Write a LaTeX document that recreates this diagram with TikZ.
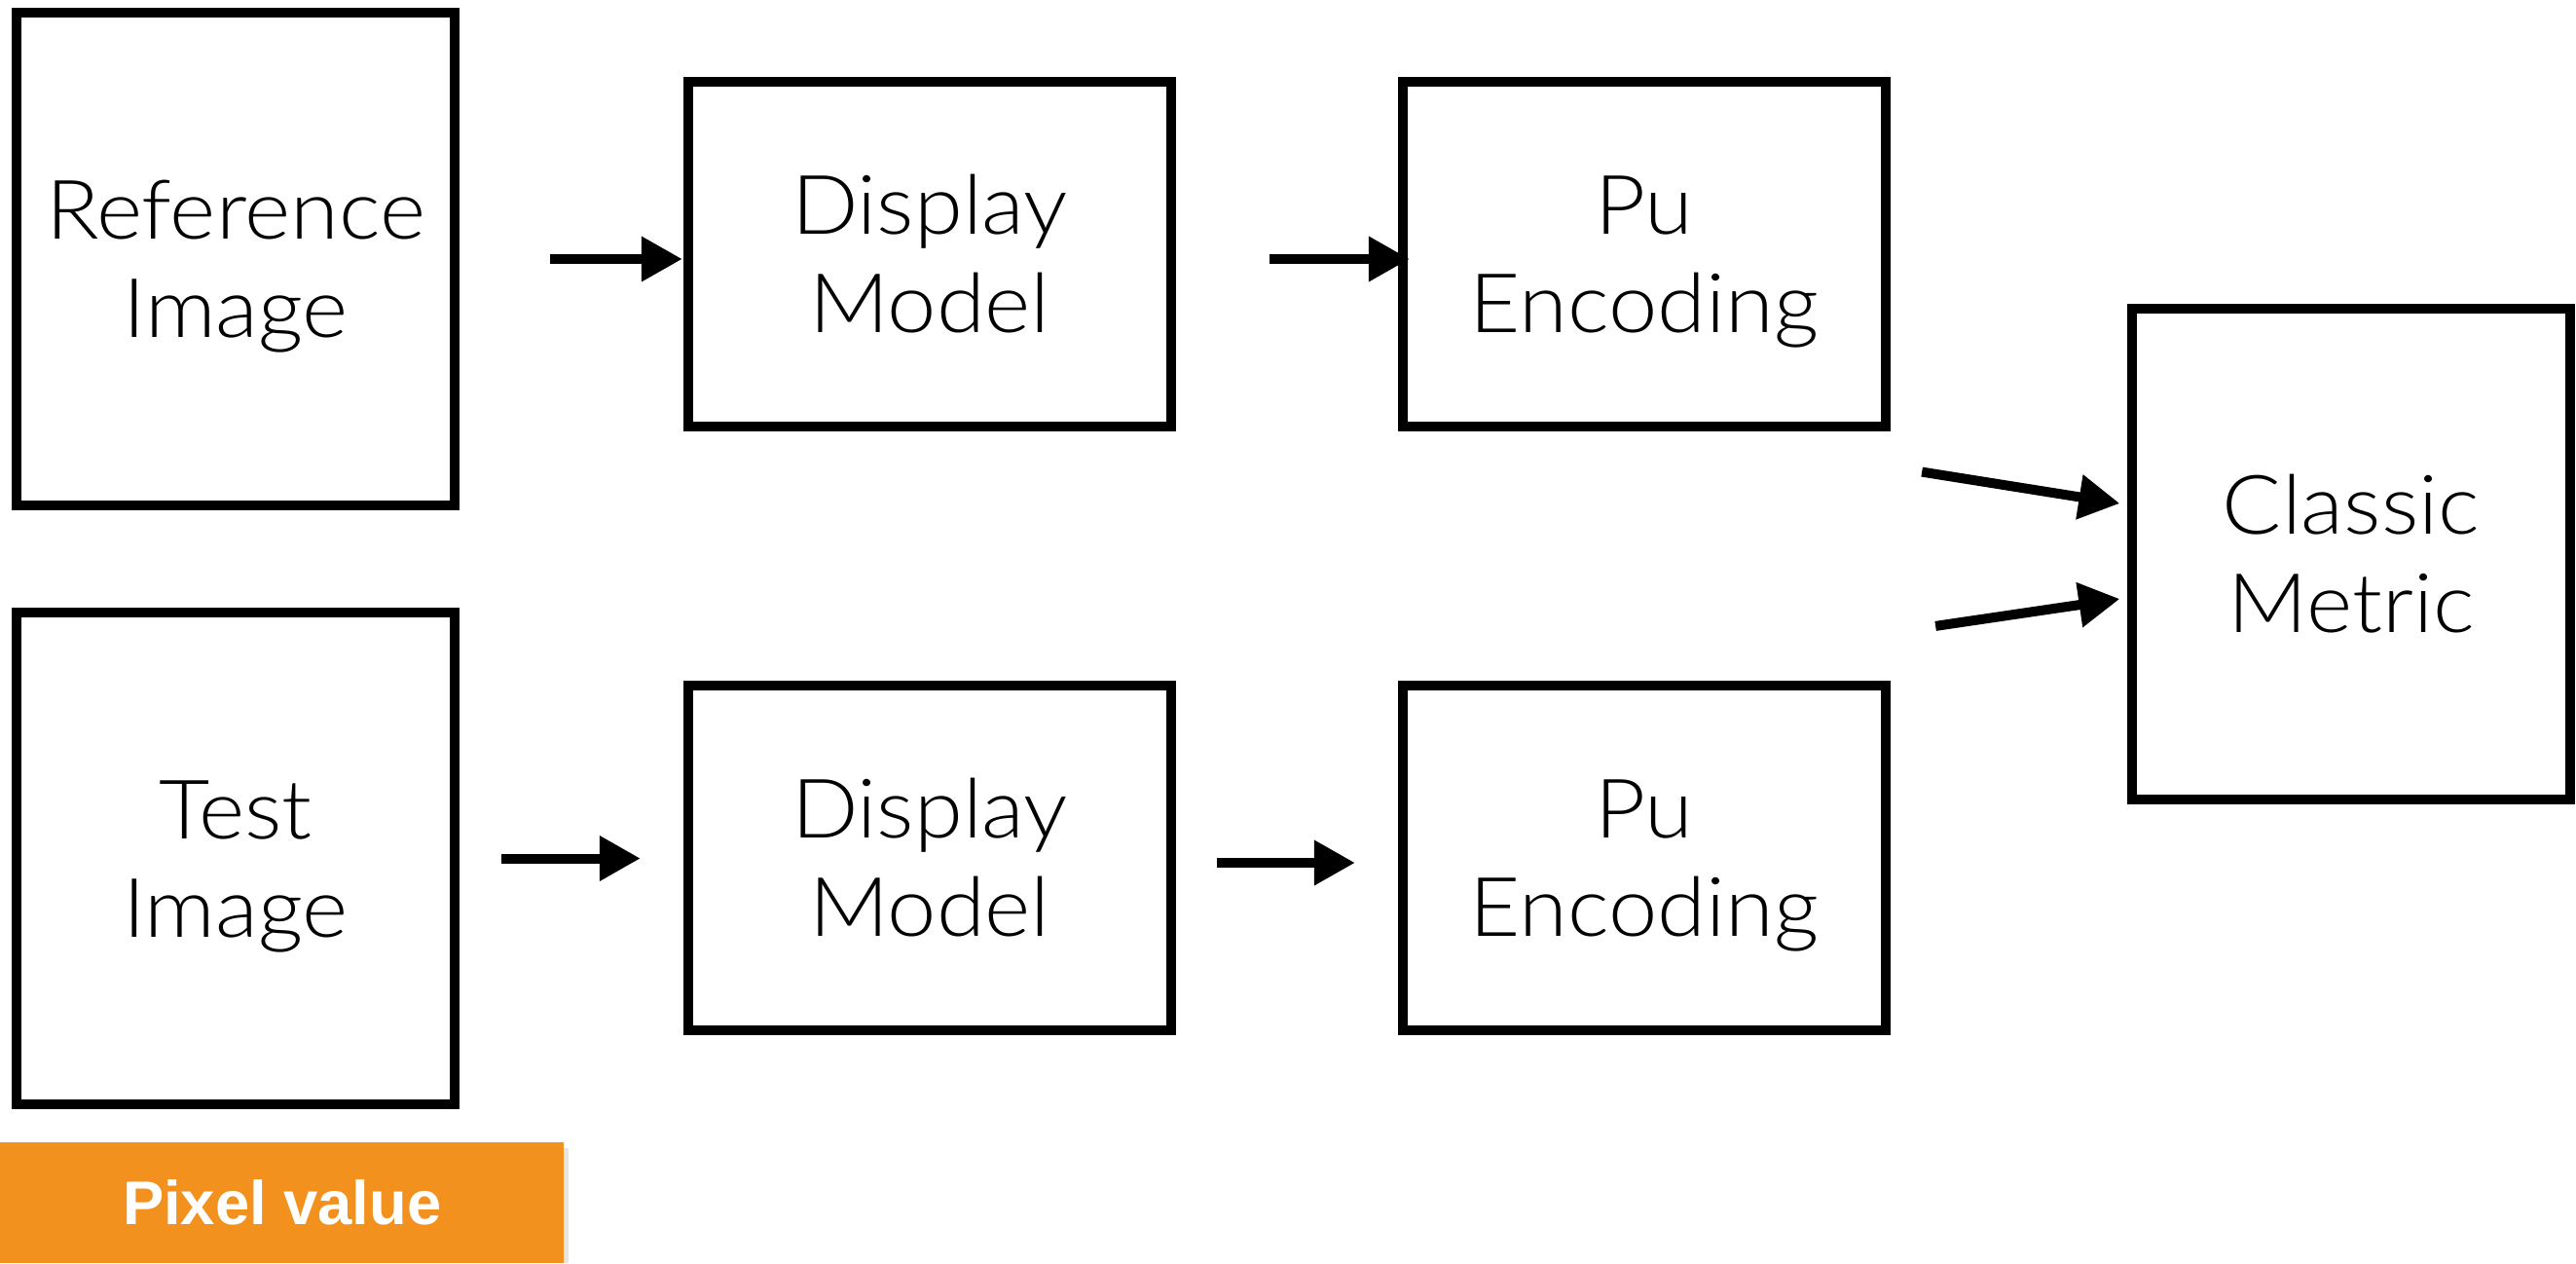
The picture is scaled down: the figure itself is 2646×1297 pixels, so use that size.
\documentclass[tikz,border=0pt]{standalone}
\usepackage{fontspec}
\IfFontExistsTF{Lato Light}{\setmainfont{Lato Light}[FakeStretch=1.07]}{\setmainfont{Liberation Sans}}
\newfontfamily\tagfont{Liberation Sans}
\usetikzlibrary{arrows.meta,calc}
\definecolor{tagorange}{RGB}{243,145,30}
% two centred lines, measured from the cap line of the first to the baseline of the second
\newcommand\twolines[2]{\smash{#1}\rule{0pt}{0.7165em}\\\smash{#2}}
\tikzset{
  blk/.style={draw=black, line width=0.1cm, outer sep=0pt, inner sep=0pt,
    align=center, font=\fontsize{24}{28.8}\selectfont},
  flow/.style={line width=0.1cm, -{Triangle[length=0.42cm,width=0.44cm]}},
}
\begin{document}
\begin{tikzpicture}[x=0.01cm,y=-0.01cm]
\useasboundingbox (0,0) rectangle (2646,1297);

% processing blocks
\node[blk, minimum width=4.50cm, minimum height=5.05cm] (ref) at (242,266) {\twolines{Reference}{Image}};
\node[blk, minimum width=4.96cm, minimum height=3.53cm] (dm1) at (955,261) {\twolines{Display}{Model}};
\node[blk, minimum width=4.96cm, minimum height=3.53cm] (pu1) at (1689,261) {\twolines{Pu}{Encoding}};
\node[blk, minimum width=4.50cm, minimum height=5.05cm] (test) at (242,881.5) {\twolines{Test}{Image}};
\node[blk, minimum width=4.96cm, minimum height=3.54cm] (dm2) at (955,881) {\twolines{Display}{Model}};
\node[blk, minimum width=4.96cm, minimum height=3.54cm] (pu2) at (1689,881) {\twolines{Pu}{Encoding}};
\node[blk, minimum width=4.49cm, minimum height=5.03cm] (cm) at (2415,569) {\twolines{Classic}{Metric}};

% data flow
\draw[flow] ($(ref.east)+(98,0)$) -- ($(dm1.west |- ref.east)+(-6,0)$);
\draw[flow] ($(dm1.east |- ref.east)+(101,0)$) -- ($(pu1.west |- ref.east)+(7,0)$);
\draw[flow] ($(test.east)+(48,0)$) -- ($(dm2.west |- test.east)+(-49,0)$);
\draw[flow] ($(dm2.east)+(47,5)$) -- ($(pu2.west |- dm2.east)+(-49,5)$);
\draw[flow] ($(pu1.south east)+(37,47)$) -- ($(cm.west)+(-13,-52)$);
\draw[flow] ($(pu2.north east)+(51,-61)$) -- ($(cm.west)+(-13,46)$);

% tag in the lower left corner
\node[fill=tagorange, minimum width=5.79cm, minimum height=1.24cm, anchor=south west,
  inner sep=0pt, outer sep=0pt, text=white,
  font=\tagfont\bfseries\fontsize{18}{21}\selectfont] (tag) at (0,1297) {Pixel value};
\fill[black!10] ($(tag.north east)+(0,6)$) rectangle ($(tag.south east)+(5,0)$);
\end{tikzpicture}
\end{document}
